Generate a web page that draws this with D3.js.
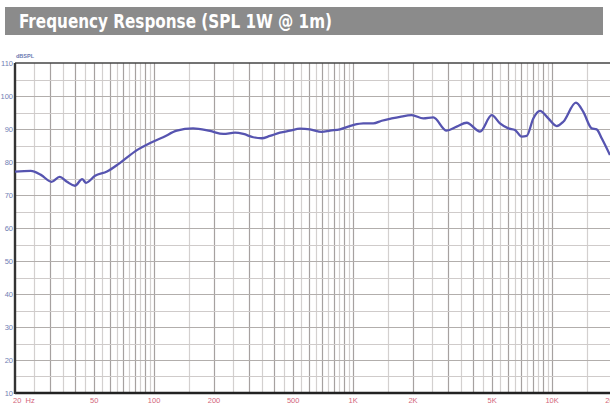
<!DOCTYPE html>
<html>
<head>
<meta charset="utf-8">
<script src="https://cdn.jsdelivr.net/npm/d3@7"></script>
<style>
  body { margin: 0; background: #fff; }
  svg { display: block; }
</style>
</head>
<body>
<script>
// frequency response readings (Hz, dB SPL)
var freqs = [20, 24, 27, 30.5, 33.5, 36.5, 40, 43.5, 45.5, 50.5, 58, 67, 82, 95, 111, 130, 157, 191,
  223, 255, 281, 315, 347, 382, 429, 482, 541, 607, 695, 766, 859, 1000, 1125, 1263, 1393, 1563, 1721,
  1970, 2254, 2530, 2950, 3316, 3724, 4342, 4973, 5470, 6026, 6510, 7032, 7457, 8046, 8690, 9572,
  10546, 11380, 13180, 14350, 15810, 16750, 17750, 19540];
var spl = [77.1, 77.3, 76.1, 74.0, 75.5, 74.0, 72.8, 74.8, 73.7, 75.8, 77.1, 79.6, 83.6, 85.7, 87.5, 89.5, 90.2, 89.4,
  88.5, 88.9, 88.5, 87.5, 87.2, 87.9, 88.9, 89.5, 90.1, 89.9, 89.1, 89.5, 89.9, 91.2, 91.7, 91.7, 92.5, 93.2, 93.7,
  94.2, 93.2, 93.5, 89.5, 90.7, 91.9, 89.2, 94.2, 91.7, 90.2, 89.7, 87.7, 87.9, 93.2, 95.5, 93.2,
  90.9, 92.2, 98.0, 95.2, 90.2, 89.9, 87.2, 82.1];

var yTicks = [10, 20, 30, 40, 50, 60, 70, 80, 90, 100, 110];
var xTicks = [20, 50, 100, 200, 500, 1000, 2000, 5000, 10000, 20000];
var xTickLabels = ['20  Hz', '50', '100', '200', '500', '1K', '2K', '5K', '10K', '20K'];
var titleText = 'Frequency Response (SPL 1W @ 1m)';

var W = 610, H = 405;
// plot box (note: "top" is reserved on window, so prefixed names)
var pLeft = 15, pRight = 612, pTop = 63, pBottom = 393;

var svg = d3.select('body').append('svg')
  .attr('width', W)
  .attr('height', H);

// title bar
svg.append('rect')
  .attr('x', 5).attr('y', 7)
  .attr('width', 598).attr('height', 28)
  .attr('fill', '#8b8b8b');

svg.append('text')
  .attr('x', 19).attr('y', 28)
  .attr('fill', '#fff')
  .style('font-family', '"Liberation Sans Narrow", "DejaVu Sans Condensed", Roboto, sans-serif')
  .style('font-weight', 'bold')
  .style('font-size', '20px')
  .attr('textLength', 313)
  .attr('lengthAdjust', 'spacingAndGlyphs')
  .text(titleText);

var x = d3.scaleLog().domain([20, 20000]).range([pLeft, pRight]);
var y = d3.scaleLinear().domain([10, 110]).range([pBottom, pTop]);

// vertical grid: 1, 1.5, 2 ... 9.5 per decade
var gridF = [];
[10, 100, 1000, 10000].forEach(function(dec) {
  d3.range(1, 10, 0.5).forEach(function(m) {
    var f = m * dec;
    if (f > 20 && f < 20000) gridF.push({ f: f, major: m % 1 === 0 });
  });
});

var grid = svg.append('g');
grid.selectAll('.vg')
  .data(gridF)
  .enter().append('line')
  .attr('x1', function(d) { return Math.round(x(d.f)) + 0.5; })
  .attr('x2', function(d) { return Math.round(x(d.f)) + 0.5; })
  .attr('y1', pTop).attr('y2', pBottom)
  .attr('stroke', function(d) { return d.major ? '#a6a1a0' : '#d3d0cf'; })
  .attr('stroke-width', 1.2);

// horizontal grid every 5 dB
grid.selectAll('.hg')
  .data(d3.range(15, 110, 5))
  .enter().append('line')
  .attr('x1', pLeft).attr('x2', W)
  .attr('y1', function(d) { return Math.round(y(d)) + 0.5; })
  .attr('y2', function(d) { return Math.round(y(d)) + 0.5; })
  .attr('stroke', function(d) { return d % 10 === 0 ? '#b2aeac' : '#cfcbca'; })
  .attr('stroke-width', 1.2);

// frame
svg.append('line')
  .attr('x1', pLeft).attr('x2', W)
  .attr('y1', pTop).attr('y2', pTop)
  .attr('stroke', '#444').attr('stroke-width', 1.6);
svg.append('line')
  .attr('x1', pLeft).attr('x2', W)
  .attr('y1', pBottom).attr('y2', pBottom)
  .attr('stroke', '#222').attr('stroke-width', 2.6);
svg.append('line')
  .attr('x1', pLeft).attr('x2', pLeft)
  .attr('y1', pTop).attr('y2', pBottom + 1)
  .attr('stroke', '#333').attr('stroke-width', 2.4);

// y labels
svg.selectAll('.ylab')
  .data(yTicks)
  .enter().append('text')
  .attr('x', pLeft - 2)
  .attr('y', function(d) { return y(d) + 2.5; })
  .attr('text-anchor', 'end')
  .attr('fill', '#7080b4')
  .style('font-family', 'Arial, "Liberation Sans", sans-serif')
  .style('font-size', '7.5px')
  .text(function(d) { return d; });

svg.append('text')
  .attr('x', pLeft + 1).attr('y', pTop - 5)
  .attr('fill', '#6a78b0')
  .style('font-family', 'Arial, "Liberation Sans", sans-serif')
  .style('font-size', '5.5px')
  .style('font-weight', 'bold')
  .text('dBSPL');

// x labels
svg.selectAll('.xlab')
  .data(xTicks)
  .enter().append('text')
  .attr('x', function(d, i) { return i === 0 ? pLeft - 2 : x(d); })
  .attr('y', pBottom + 9.5)
  .attr('text-anchor', function(d, i) { return i === 0 ? 'start' : 'middle'; })
  .attr('fill', '#d2657a')
  .style('font-family', 'Arial, "Liberation Sans", sans-serif')
  .style('font-size', '7.5px')
  .style('white-space', 'pre')
  .text(function(d, i) { return xTickLabels[i]; });

// response curve
var pts = freqs.map(function(f, i) { return [f, spl[i]]; });
var line = d3.line()
  .x(function(d) { return x(d[0]); })
  .y(function(d) { return y(d[1]); })
  .curve(d3.curveMonotoneX);

svg.append('path')
  .datum(pts)
  .attr('d', line)
  .attr('fill', 'none')
  .attr('stroke', '#5654b0')
  .attr('stroke-width', 2.3)
  .attr('stroke-linejoin', 'round');
</script>
</body>
</html>
